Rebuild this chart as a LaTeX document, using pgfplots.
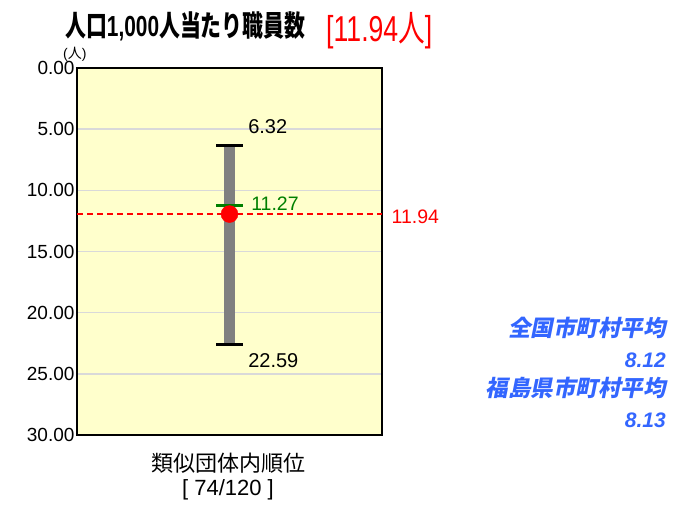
\documentclass[border=0pt]{standalone}
\usepackage{fontspec}
\setmainfont{Liberation Sans}
\newfontfamily\jp{Noto Sans CJK JP}
\newfontfamily\jpsl{Noto Sans CJK JP}[FakeSlant=0.2]
\newfontfamily\titlelat{Liberation Sans}[FakeStretch=0.72]
\newfontfamily\titlejp{Noto Sans CJK JP}[FakeStretch=0.72]
\newfontfamily\redlat{Liberation Sans}[FakeStretch=0.74]
\newfontfamily\redjp{Noto Sans CJK JP}[FakeStretch=0.74]
\usepackage{pgfplots}
\pgfplotsset{compat=1.18}
\definecolor{plotbg}{RGB}{255,255,204}
\definecolor{barg}{RGB}{128,128,128}
\definecolor{avggreen}{RGB}{0,128,0}
\definecolor{avgblue}{RGB}{51,102,255}
\begin{document}
\begin{tikzpicture}
\path[use as bounding box] (0,0) rectangle (684bp,505bp);
\begin{axis}[
    at={(77bp,70bp)}, anchor=south west,
    scale only axis, width=305bp, height=367bp,
    xmin=0, xmax=1, ymin=0, ymax=30,
    y dir=reverse,
    xtick=\empty,
    ytick={0,5,...,30},
    major tick length=0pt,
    ymajorgrids,
    grid style={line width=1.5bp, color=black!15},
    axis line style={line width=2.5bp},
    axis background/.style={fill=plotbg},
    /pgf/number format/assume math mode=true,
    yticklabel style={font=\fontsize{19bp}{22bp}\selectfont, xshift=1bp, /pgf/number format/fixed, /pgf/number format/fixed zerofill, /pgf/number format/precision=2},
    clip=false,
]
\addplot[barg, line width=11.5bp] coordinates {(0.5,6.32) (0.5,22.59)};
\addplot[black, line width=3bp] coordinates {(0.456,6.32) (0.544,6.32)};
\addplot[black, line width=3bp] coordinates {(0.456,22.59) (0.544,22.59)};
\addplot[avggreen, line width=3bp] coordinates {(0.456,11.27) (0.544,11.27)};
\addplot[red, line width=1.3bp, dash pattern=on 6bp off 4bp] coordinates {(0,11.94) (1,11.94)};
\addplot[only marks, mark=*, mark size=8.5bp, red] coordinates {(0.5,11.94)};
\node[anchor=west, font=\fontsize{20bp}{22bp}\selectfont] at (axis cs:0.55,4.8) {6.32};
\node[anchor=west, font=\fontsize{20bp}{22bp}\selectfont] at (axis cs:0.55,23.9) {22.59};
\node[anchor=west, font=\fontsize{19.5bp}{22bp}\selectfont, text=avggreen] at (axis cs:0.56,11.1) {11.27};
\node[anchor=west, font=\fontsize{19.5bp}{22bp}\selectfont, text=red] at (axis cs:1.02,12.2) {11.94};
\end{axis}
\node[anchor=base west, inner sep=0pt] at (65bp,468bp)
  {\fontsize{29bp}{32bp}\selectfont\bfseries{\titlejp 人口}{\titlelat 1,000}{\titlejp 人当たり職員数}};
\node[anchor=base west, inner sep=0pt, text=red] at (326bp,463bp)
  {\fontsize{36bp}{38bp}\selectfont{\redlat [11.94}{\redjp 人}{\redlat ]}};
\node[anchor=base west, inner sep=0pt] at (63bp,446bp)
  {\fontsize{14bp}{16bp}\selectfont({\jp 人})};
\node[anchor=center, inner sep=0pt] at (228bp,42bp)
  {\fontsize{22bp}{24bp}\selectfont\jp 類似団体内順位};
\node[anchor=center, inner sep=0pt] at (228bp,15bp)
  {\fontsize{22bp}{24bp}\selectfont[ 74/120 ]};
\begin{scope}[every node/.style={anchor=east, inner sep=0pt, text=avgblue, font=\fontsize{22.5bp}{24bp}\selectfont\bfseries}]
\node at (666bp,177bp) {\jpsl 全国市町村平均};
\node[font=\fontsize{21bp}{24bp}\selectfont\bfseries] at (666bp,145bp) {\itshape 8.12};
\node at (666bp,117bp) {\jpsl 福島県市町村平均};
\node[font=\fontsize{21bp}{24bp}\selectfont\bfseries] at (666bp,85bp) {\itshape 8.13};
\end{scope}
\end{tikzpicture}
\end{document}
